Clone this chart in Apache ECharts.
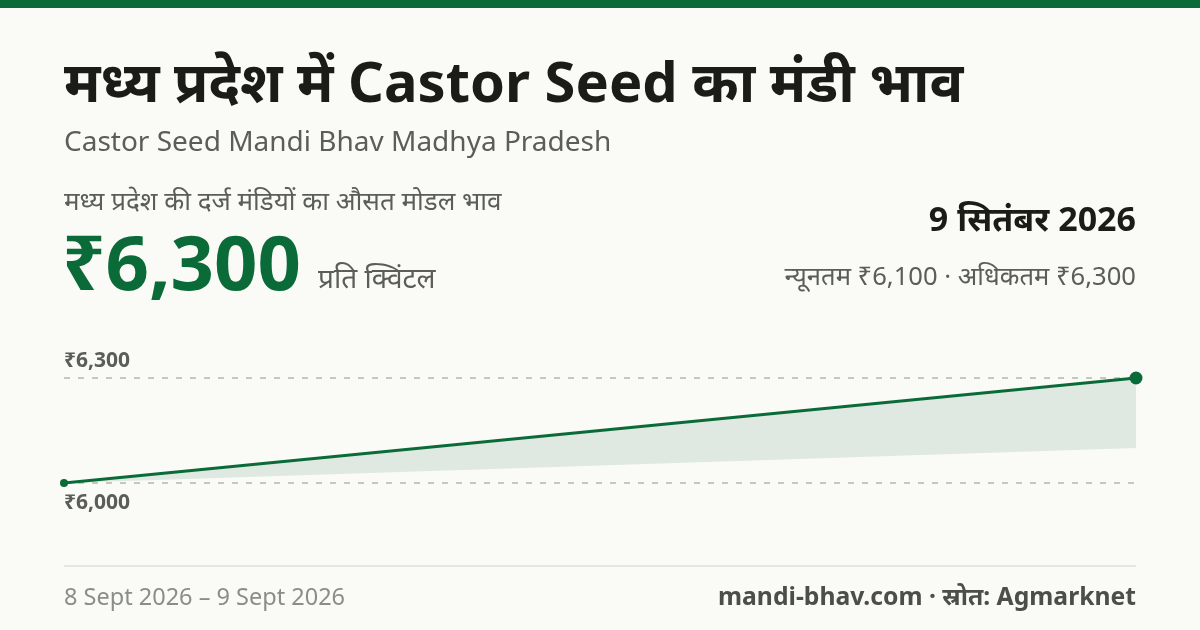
<!DOCTYPE html>
<html>
<head>
<meta charset="utf-8">
<script src="https://cdn.jsdelivr.net/npm/echarts@6/dist/echarts.min.js"></script>
<style>
html,body{margin:0;padding:0;background:#fafbf7;}
#c{width:1200px;height:630px;}
</style>
</head>
<body>
<div id="c"></div>
<script>
const dates = ['8 Sept 2026', '9 Sept 2026'];
const modalPrice = [6000, 6300];
const minPrice = [6000, 6100];
const maxPrice = [6000, 6300];
const yTicks = [6000, 6300];

const FONT = '"Noto Sans", "Noto Sans Devanagari", sans-serif';
const GREEN = '#0b6b38';
const fmt = v => '₹' + v.toLocaleString('en-IN');

const chart = echarts.init(document.getElementById('c'));
const band = maxPrice.map((v, i) => v - minPrice[i]);

chart.setOption({
  backgroundColor: '#fafbf7',
  animation: false,
  grid: { left: 64, right: 64, top: 378, bottom: 147 },
  xAxis: {
    type: 'category', data: dates, boundaryGap: false,
    axisLine: { show: false }, axisTick: { show: false }, axisLabel: { show: false },
    splitLine: { show: false }
  },
  yAxis: {
    type: 'value', min: yTicks[0], max: yTicks[1], interval: yTicks[1] - yTicks[0],
    axisLine: { show: false }, axisTick: { show: false }, axisLabel: { show: false },
    splitLine: { show: false }
  },
  series: [
    {
      type: 'line', data: minPrice, stack: 'band', symbol: 'none',
      lineStyle: { width: 0, opacity: 0 }, silent: true
    },
    {
      type: 'line', data: band, stack: 'band', symbol: 'none',
      lineStyle: { width: 0, opacity: 0 },
      areaStyle: { color: '#dfe9e1', opacity: 1 }, silent: true
    },
    {
      type: 'line', data: modalPrice, z: 5,
      symbol: 'circle',
      symbolSize: (v, p) => p.dataIndex === modalPrice.length - 1 ? 13 : 8,
      itemStyle: { color: GREEN },
      lineStyle: { color: GREEN, width: 3 },
      markLine: {
        silent: true, symbol: 'none',
        lineStyle: { color: '#b5b7b0', type: [6, 8], width: 1.5 },
        data: [
          { yAxis: yTicks[1], label: { position: 'insideStartTop', distance: [0, 6] } },
          { yAxis: yTicks[0], label: { position: 'insideStartBottom', distance: [0, 10] } }
        ],
        label: {
          formatter: p => fmt(p.value),
          fontFamily: FONT, fontSize: 21, fontWeight: 'bold', color: '#5b5e56', padding: 0
        }
      }
    }
  ],
  graphic: [
    { type: 'rect', shape: { x: 0, y: 0, width: 1200, height: 8 }, style: { fill: GREEN } },
    { type: 'text', left: 64, top: 58, style: { text: 'मध्य प्रदेश में Castor Seed का मंडी भाव', font: 'bold 56px ' + FONT, fill: '#1b1c18' } },
    { type: 'text', left: 64, top: 129, style: { text: 'Castor Seed Mandi Bhav Madhya Pradesh', font: '28px ' + FONT, fill: '#5b5e56' } },
    { type: 'text', left: 64, top: 190, style: { text: 'मध्य प्रदेश की दर्ज मंडियों का औसत मोडल भाव', font: '26px ' + FONT, fill: '#5b5e56' } },
    { type: 'text', left: 62, top: 230, style: { text: fmt(modalPrice[modalPrice.length - 1]), font: 'bold 76px ' + FONT, fill: GREEN } },
    { type: 'text', left: 318, top: 266, style: { text: 'प्रति क्विंटल', font: '28px ' + FONT, fill: '#5b5e56' } },
    { type: 'text', right: 64, top: 204, style: { text: '9 सितंबर 2026', font: 'bold 34px ' + FONT, fill: '#1b1c18', align: 'right' } },
    { type: 'text', right: 64, top: 265, style: { text: 'न्यूनतम ' + fmt(6100) + ' · अधिकतम ' + fmt(6300), font: '25.6px ' + FONT, fill: '#5b5e56', align: 'right' } },
    { type: 'rect', shape: { x: 64, y: 565, width: 1072, height: 2 }, style: { fill: '#e5e6df' } },
    { type: 'text', left: 64, top: 586, style: { text: dates[0] + ' – ' + dates[dates.length - 1], font: '23.5px ' + FONT, fill: '#8b8e86' } },
    { type: 'text', right: 64, top: 585, style: { text: 'mandi-bhav.com · स्रोत: Agmarknet', font: 'bold 24.7px ' + FONT, fill: '#4c4f48', align: 'right' } }
  ]
});
</script>
</body>
</html>
